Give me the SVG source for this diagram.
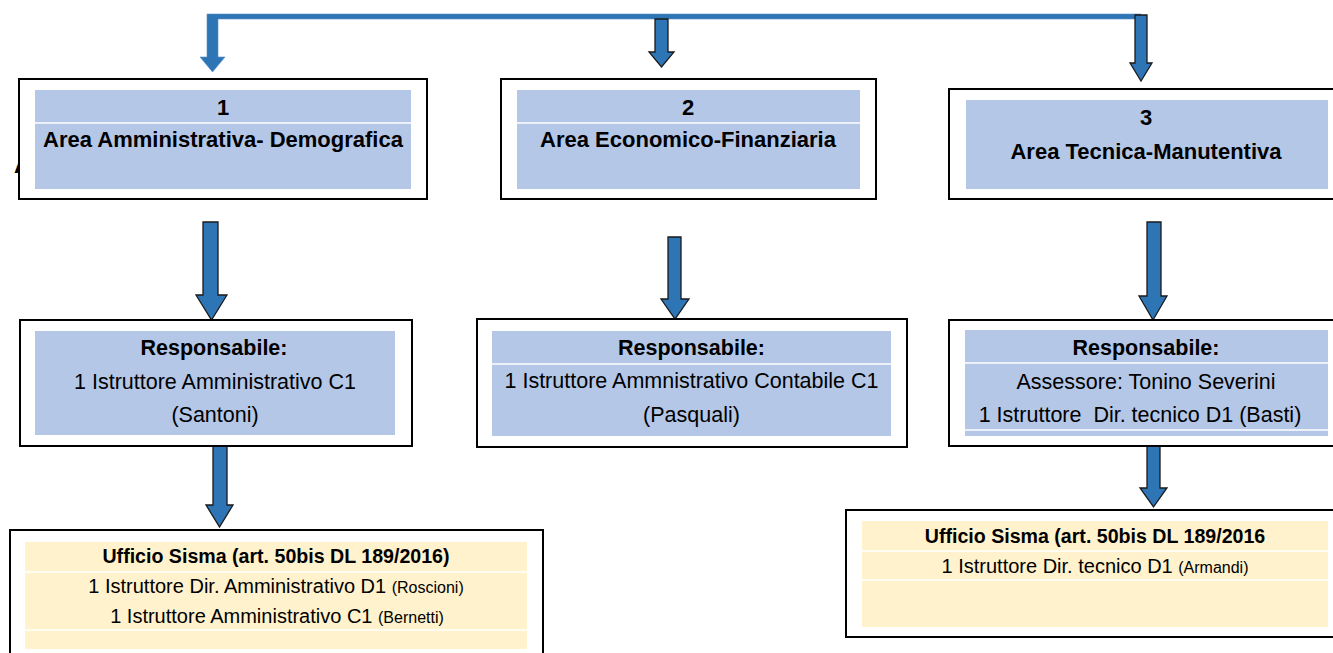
<svg xmlns="http://www.w3.org/2000/svg" width="1333" height="653" viewBox="0 0 1333 653">
<style>
  .frame{fill:#ffffff;stroke:#000000;stroke-width:2}
  .blue{fill:#B4C7E7}
  .yellow{fill:#FFF2CC}
  .sep{stroke:#ffffff;stroke-width:1.5}
  .arrow{fill:#2E75B6;stroke:#1a1a1a;stroke-width:1.3;stroke-linejoin:miter}
  .conn{fill:#2E75B6;stroke:#5b8fc7;stroke-width:0.6}
  text{font-family:"Liberation Sans",Arial,sans-serif;fill:#000000;text-anchor:middle}
  .t{font-size:22px;font-weight:bold}
  .rb{font-size:21.5px;font-weight:bold}
  .r{font-size:21.5px}
  .ub{font-size:19.6px;font-weight:bold}
  .u{font-size:20px}
  .s{font-size:16px}
</style>
<rect width="1333" height="653" fill="#ffffff"/>
<text x="14" y="173" class="t" style="text-anchor:start">A</text>

<g id="connectors">
  <path class="conn" d="M207,14 H1141 V19 H218 V57 H225 L212.5,72 L200,57 H207 Z"/>
  <polygon class="arrow" points="655,19 668,19 668,52 674,52 661.5,67 649,52 655,52"/>
  <polygon class="arrow" points="1135,15 1147,15 1147,63 1152,63 1141,81 1130,63 1135,63"/>
  <polygon class="arrow" points="203,222 218,222 218,295 227,295 211.5,320 196,295 203,295"/>
  <polygon class="arrow" points="668,237 681,237 681,299 689,299 675,319 661,299 668,299"/>
  <polygon class="arrow" points="1147,222 1161,222 1161,296 1167,296 1153,320 1139,296 1147,296"/>
  <polygon class="arrow" points="213,446 227,446 227,505 233,505 219.5,527 206,505 213,505"/>
  <polygon class="arrow" points="1147,446 1160,446 1160,488 1167,488 1153.5,507 1140,488 1147,488"/>
</g>

<g id="area1">
  <rect class="frame" x="19" y="79" width="408" height="120"/>
  <rect class="blue" x="35" y="90" width="376" height="99"/>
  <line class="sep" x1="35" y1="123" x2="411" y2="123"/>
  <text x="223" y="115" class="t">1</text>
  <text x="223" y="147" class="t">Area Amministrativa- Demografica</text>
</g>

<g id="area2">
  <rect class="frame" x="501" y="79" width="375" height="120"/>
  <rect class="blue" x="517" y="90" width="343" height="99"/>
  <line class="sep" x1="517" y1="123" x2="860" y2="123"/>
  <text x="688" y="115" class="t">2</text>
  <text x="688" y="147" class="t">Area Economico-Finanziaria</text>
</g>

<g id="area3">
  <rect class="frame" x="949" y="89" width="400" height="110"/>
  <rect class="blue" x="966" y="100" width="362" height="89"/>
  <text x="1146" y="125" class="t">3</text>
  <text x="1146" y="159" class="t">Area Tecnica-Manutentiva</text>
</g>

<g id="resp1">
  <rect class="frame" x="20" y="320" width="392" height="126"/>
  <rect class="blue" x="35" y="331" width="360" height="104"/>
  <text x="214" y="355" class="rb">Responsabile:</text>
  <text x="215" y="389" class="r">1 Istruttore Amministrativo C1</text>
  <text x="215" y="422" class="r">(Santoni)</text>
</g>

<g id="resp2">
  <rect class="frame" x="477" y="319" width="430" height="128"/>
  <rect class="blue" x="492" y="331" width="399" height="105"/>
  <line class="sep" x1="492" y1="364" x2="891" y2="364"/>
  <text x="691.5" y="355" class="rb">Responsabile:</text>
  <text x="691.5" y="388" class="r">1 Istruttore Ammnistrativo Contabile C1</text>
  <text x="691.5" y="422" class="r">(Pasquali)</text>
</g>

<g id="resp3">
  <rect class="frame" x="949" y="320" width="400" height="126"/>
  <rect class="blue" x="965" y="330" width="363" height="106"/>
  <line class="sep" x1="965" y1="363" x2="1328" y2="363"/>
  <line class="sep" x1="965" y1="430" x2="1328" y2="430"/>
  <text x="1146" y="355" class="rb">Responsabile:</text>
  <text x="1146" y="389" class="r">Assessore: Tonino Severini</text>
  <text x="1140" y="422" class="r" xml:space="preserve">1 Istruttore  Dir. tecnico D1 (Basti)</text>
</g>

<g id="sisma1">
  <rect class="frame" x="10" y="530" width="533" height="140"/>
  <rect class="yellow" x="25" y="542" width="502" height="107"/>
  <line class="sep" x1="25" y1="572" x2="527" y2="572"/>
  <line class="sep" x1="25" y1="630" x2="527" y2="630"/>
  <text x="276" y="563" class="ub">Ufficio Sisma (art. 50bis DL 189/2016)</text>
  <text x="276" y="593" class="u">1 Istruttore Dir. Amministrativo D1 <tspan class="s">(Roscioni)</tspan></text>
  <text x="277" y="623" class="u">1 Istruttore Amministrativo C1 <tspan class="s">(Bernetti)</tspan></text>
</g>

<g id="sisma3">
  <rect class="frame" x="846" y="510" width="500" height="127"/>
  <rect class="yellow" x="862" y="521" width="466" height="106"/>
  <line class="sep" x1="862" y1="551" x2="1328" y2="551"/>
  <line class="sep" x1="862" y1="580" x2="1328" y2="580"/>
  <text x="1095" y="543" class="ub">Ufficio Sisma (art. 50bis DL 189/2016</text>
  <text x="1095" y="573" class="u">1 Istruttore Dir. tecnico D1 <tspan class="s">(Armandi)</tspan></text>
</g>
</svg>
